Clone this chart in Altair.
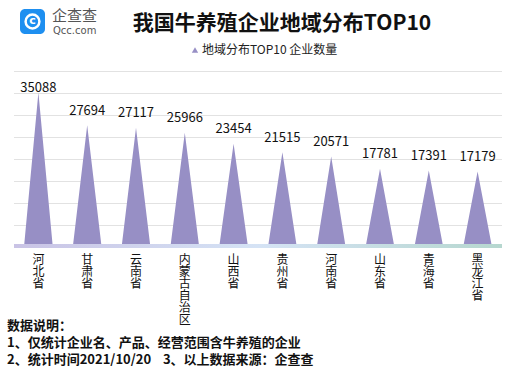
import altair as alt
import pandas as pd

provinces = ["河北省", "甘肃省", "云南省", "内蒙古自治区", "山西省", "贵州省", "河南省", "山东省", "青海省", "黑龙江省"]
counts = [35088, 27694, 27117, 25966, 23454, 21515, 20571, 17781, 17391, 17179]
y_ticks = [5000, 10000, 15000, 20000, 25000, 30000, 35000, 40000]

title_text = "我国牛养殖企业地域分布TOP10"
legend_text = "地域分布TOP10 企业数量"
logo_cn = "企查查"
logo_en = "Qcc.com"
notes = ["数据说明：", "1、仅统计企业名、产品、经营范围含牛养殖的企业",
         "2、统计时间2021/10/20\u00a0\u00a0\u00a0\u00a03、以上数据来源：企查查"]

FONT = "Noto Sans CJK SC"
W, H = 488, 176
HALF = 0.295
TRI = "#978fc5"
YMAX = 40000

base = pd.DataFrame({"cat": provinces, "idx": list(range(len(provinces))), "v": counts})
base["lab"] = ["\n".join(list(p)) for p in provinces]

rows = []
for c, i, v in zip(provinces, base["idx"], counts):
    rows.append({"cat": c, "x": i - HALF, "y": 0})
    rows.append({"cat": c, "x": i, "y": v})
    rows.append({"cat": c, "x": i + HALF, "y": 0})
tri = pd.DataFrame(rows)

xs = alt.Scale(domain=[-0.5, len(provinces) - 0.5], nice=False, zero=False)
ys = alt.Scale(domain=[0, YMAX], nice=False)

grid = alt.Chart(pd.DataFrame({"t": y_ticks})).mark_rule(color="#e2e2e2", strokeWidth=1, yOffset=0.5).encode(
    y=alt.Y("t:Q", scale=ys, axis=None)
)

triangles = alt.Chart(tri).mark_area(color=TRI, opacity=1, interpolate="linear").encode(
    x=alt.X("x:Q", scale=xs, axis=None),
    y=alt.Y("y:Q", scale=ys, axis=None),
    detail="cat:N",
)

# label sits ~10.5px above the tip, but never above a ceiling near the top of the plot
gap_units = 10.5 / H * YMAX
cap_units = (H - 21) / H * YMAX
values = alt.Chart(base).transform_calculate(
    ly=f"min(datum.v + {gap_units}, {cap_units})"
).mark_text(font=FONT, fontSize=13, color="#111", baseline="alphabetic").encode(
    x=alt.X("idx:Q", scale=xs), y=alt.Y("ly:Q", scale=ys), text="v:Q"
)

xlabels = alt.Chart(base).mark_text(font=FONT, fontSize=12, color="#111", baseline="top",
                                    lineBreak="\n", lineHeight=12).encode(
    x=alt.X("idx:Q", scale=xs), y=alt.value(H + 8), text="lab:N"
)

band = alt.Chart(pd.DataFrame({"a": [0]})).mark_rect(
    color=alt.Gradient(gradient="linear", x1=0, x2=1, y1=0, y2=0,
                       stops=[alt.GradientStop(color="#c9c3e5", offset=0),
                              alt.GradientStop(color="#d5e3f5", offset=0.5),
                              alt.GradientStop(color="#b6d7cf", offset=1)])
).encode(x=alt.value(0), x2=alt.value(W), y=alt.value(H - 3), y2=alt.value(H + 1))

title = alt.Chart(pd.DataFrame({"t": [title_text]})).mark_text(
    font=FONT, fontSize=21, fontWeight="bold", color="#111", align="center", baseline="middle"
).encode(x=alt.value(268), y=alt.value(-47), text="t:N")

leg_sym = alt.Chart(pd.DataFrame({"a": [0]})).mark_point(
    shape="triangle-up", filled=True, color=TRI, size=40, opacity=1
).encode(x=alt.value(181), y=alt.value(-21))

leg_txt = alt.Chart(pd.DataFrame({"t": [legend_text]})).mark_text(
    font=FONT, fontSize=12, color="#222", align="left", baseline="middle"
).encode(x=alt.value(188), y=alt.value(-21), text="t:N")

logo_box = alt.Chart(pd.DataFrame({"a": [0]})).mark_rect(color="#1e8ff0", cornerRadius=5).encode(
    x=alt.value(6), x2=alt.value(31), y=alt.value(-62), y2=alt.value(-37)
)
logo_ring = alt.Chart(pd.DataFrame({"a": [0]})).mark_point(
    shape="circle", filled=False, color="white", size=190, strokeWidth=2.5, opacity=1
).encode(x=alt.value(18.5), y=alt.value(-49.5))
logo_c = alt.Chart(pd.DataFrame({"t": ["c"]})).mark_text(
    font="DejaVu Sans", fontSize=11, fontWeight="bold", color="white", align="center", baseline="middle"
).encode(x=alt.value(18.5), y=alt.value(-50), text="t:N")
logo_t1 = alt.Chart(pd.DataFrame({"t": [logo_cn]})).mark_text(
    font=FONT, fontSize=15, color="#555", align="left", baseline="middle"
).encode(x=alt.value(38), y=alt.value(-55), text="t:N")
logo_t2 = alt.Chart(pd.DataFrame({"t": [logo_en]})).mark_text(
    font="DejaVu Sans", fontSize=10, color="#555", align="left", baseline="middle"
).encode(x=alt.value(39), y=alt.value(-40), text="t:N")

note_layers = []
for k, line in enumerate(notes):
    note_layers.append(
        alt.Chart(pd.DataFrame({"t": [line]})).mark_text(
            font=FONT, fontSize=13, fontWeight="bold", color="#111", align="left", baseline="middle"
        ).encode(x=alt.value(-7), y=alt.value(255 + 17 * k), text="t:N")
    )

chart = alt.layer(
    grid, triangles, band, values, xlabels, title, leg_sym, leg_txt,
    logo_box, logo_ring, logo_c, logo_t1, logo_t2, *note_layers
).properties(
    width=W, height=H,
    autosize=alt.AutoSizeParams(type="none"),
    padding={"left": 14, "top": 71, "right": 15, "bottom": 128},
    background="white",
).configure_view(stroke=None)

chart.save("out.html", embed_options={"renderer": "svg", "actions": False})
